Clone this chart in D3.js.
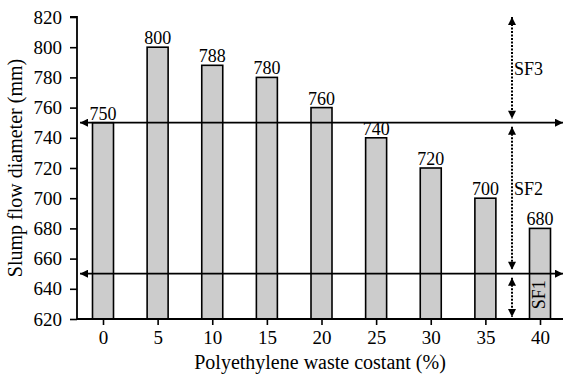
<!DOCTYPE html>
<html>
<head>
<meta charset="utf-8">
<script src="https://cdn.jsdelivr.net/npm/d3@7"></script>
<style>
  html, body { margin: 0; padding: 0; background: #fff; }
  svg { display: block; }
</style>
</head>
<body>
<svg id="chart" width="563" height="376" font-family="Liberation Serif"></svg>
<script>
// Polyethylene waste content (%) and measured slump flow diameter (mm)
const categories = ["0", "5", "10", "15", "20", "25", "30", "35", "40"];
const slumpFlow = [750, 800, 788, 780, 760, 740, 720, 700, 680];
const yTicks = [620, 640, 660, 680, 700, 720, 740, 760, 780, 800, 820];
// Slump flow class limits (EFNARC): SF1 / SF2 / SF3
const classLimits = [650, 750];
const classBands = [
  { name: "SF1", from: 620, to: 650 },
  { name: "SF2", from: 650, to: 750 },
  { name: "SF3", from: 750, to: 820 }
];

const FONT = "Liberation Serif";
const svg = d3.select("#chart");

const axisX = 77, axisRight = 563;
const x = d3.scalePoint().domain(categories).range([103, 540]);
const y = d3.scaleLinear().domain([620, 820]).range([319, 17]);
const barW = 21;

// arrow heads
const defs = svg.append("defs");
defs.append("marker")
  .attr("id", "arrow")
  .attr("viewBox", "0 0 10 10")
  .attr("refX", 10).attr("refY", 5)
  .attr("markerWidth", 10).attr("markerHeight", 8)
  .attr("markerUnits", "userSpaceOnUse")
  .attr("orient", "auto-start-reverse")
  .append("path").attr("d", "M0,0 L10,5 L0,10 Z").attr("fill", "#000");

// bars
svg.append("g").selectAll("rect")
  .data(slumpFlow)
  .join("rect")
  .attr("x", (d, i) => x(categories[i]) - barW / 2)
  .attr("y", d => y(d))
  .attr("width", barW)
  .attr("height", d => y(620) - y(d))
  .attr("fill", "#cccccc")
  .attr("stroke", "#000")
  .attr("stroke-width", 1.6);

// value labels
svg.append("g").selectAll("text")
  .data(slumpFlow)
  .join("text")
  .attr("x", (d, i) => x(categories[i]))
  .attr("y", d => y(d) - 3)
  .attr("text-anchor", "middle")
  .attr("font-family", FONT)
  .attr("font-size", 18)
  .text(d => d);

// class limit lines
svg.append("g").selectAll("line")
  .data(classLimits)
  .join("line")
  .attr("x1", 80).attr("x2", axisRight)
  .attr("y1", d => y(d)).attr("y2", d => y(d))
  .attr("stroke", "#000").attr("stroke-width", 1.8)
  .attr("marker-start", "url(#arrow)")
  .attr("marker-end", "url(#arrow)");

// y axis
const yAxis = d3.axisLeft(y).tickValues(yTicks).tickSize(7).tickPadding(8);
const gy = svg.append("g").attr("transform", `translate(${axisX},0)`).call(yAxis)
  .attr("font-family", FONT).attr("font-size", 19);
gy.select(".domain").attr("d", `M-7,${y(820)}H0V${y(620)}`).attr("stroke-width", 1.8);
gy.selectAll(".tick line").attr("stroke-width", 1.6);
gy.selectAll(".tick text").attr("font-family", FONT).attr("font-size", 19).attr("fill", "#000");

// x axis
const xAxis = d3.axisBottom(x).tickSize(6).tickPadding(6);
const gx = svg.append("g").attr("transform", `translate(0,${y(620)})`).call(xAxis)
  .attr("font-family", FONT).attr("font-size", 19);
gx.select(".domain").attr("d", `M${axisX},0H${axisRight}`).attr("stroke-width", 1.8);
gx.selectAll(".tick line").attr("stroke-width", 1.6);
gx.selectAll(".tick text").attr("font-family", FONT).attr("font-size", 19).attr("fill", "#000");

// class range arrows
const bandX = 512;
const gap = 4;
svg.append("g").selectAll("line")
  .data(classBands)
  .join("line")
  .attr("x1", bandX).attr("x2", bandX)
  .attr("y1", d => y(d.to) + (d.to === 820 ? 0 : gap))
  .attr("y2", d => y(d.from) - (d.from === 620 ? 2 : gap))
  .attr("stroke", "#000").attr("stroke-width", 2)
  .attr("stroke-dasharray", "2,1.5")
  .attr("marker-start", "url(#arrow)")
  .attr("marker-end", "url(#arrow)");

// class names
svg.append("text").attr("x", 514).attr("y", 75)
  .attr("font-family", FONT).attr("font-size", 18).text("SF3");
svg.append("text").attr("x", 514).attr("y", 195)
  .attr("font-family", FONT).attr("font-size", 18).text("SF2");
svg.append("text")
  .attr("transform", `translate(${x("40") + 5},${y(636)}) rotate(-90)`)
  .attr("text-anchor", "middle")
  .attr("font-family", FONT).attr("font-size", 18).text("SF1");

// axis titles
svg.append("text")
  .attr("x", 320).attr("y", 369)
  .attr("text-anchor", "middle")
  .attr("font-family", FONT).attr("font-size", 20)
  .text("Polyethylene waste costant (%)");
svg.append("text")
  .attr("transform", `translate(22,${(y(620) + y(820)) / 2}) rotate(-90)`)
  .attr("text-anchor", "middle")
  .attr("font-family", FONT).attr("font-size", 20)
  .text("Slump flow diameter (mm)");
</script>
</body>
</html>
